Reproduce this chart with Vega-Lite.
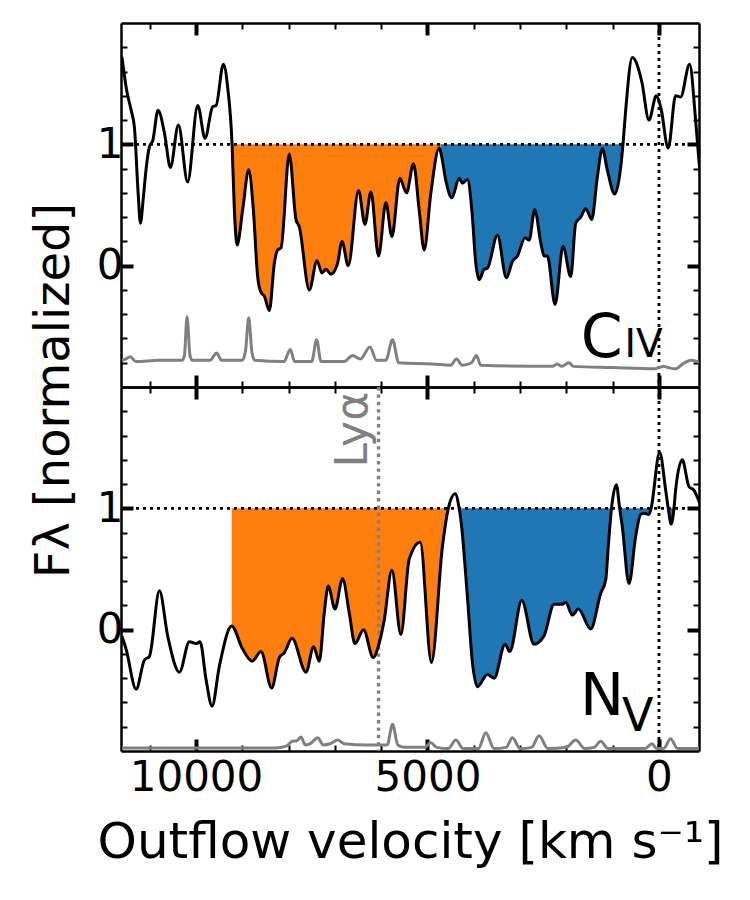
{
  "$schema": "https://vega.github.io/schema/vega-lite/v6.json",
  "padding": {"left": 30, "top": 21, "right": 5, "bottom": 5},
  "bounds": "flush",
  "spacing": 0,
  "config": {
    "font": "DejaVu Sans",
    "view": {"stroke": null},
    "axis": {"grid": false, "domain": false, "domainColor": "black", "domainWidth": 2.5, "tickColor": "black", "labelColor": "black", "titleColor": "black", "labelFont": "DejaVu Sans", "titleFont": "DejaVu Sans", "labelFontSize": 42, "titleFontSize": 48, "titleFontWeight": "normal", "zindex": 1}
  },
  "datasets": {
    "one": [{}],
    "civ": [{"v":11600,"f":1.72},{"v":11500,"f":1.45},{"v":11400,"f":1.28},{"v":11330,"f":1.14},{"v":11250,"f":0.6},{"v":11200,"f":0.35},{"v":11140,"f":0.55},{"v":11080,"f":0.79},{"v":11006,"f":0.98},{"v":10934,"f":1.03},{"v":10820,"f":1.28},{"v":10680,"f":1.09},{"v":10553,"f":0.81},{"v":10380,"f":1.16},{"v":10180,"f":0.69},{"v":9963,"f":1.32},{"v":9805,"f":1.05},{"v":9640,"f":1.31},{"v":9566,"f":1.32},{"v":9409,"f":1.66},{"v":9316,"f":1.47},{"v":9221,"f":1.0},{"v":9171,"f":0.46},{"v":9113,"f":0.17},{"v":8992,"f":0.46},{"v":8862,"f":0.79},{"v":8761,"f":0.46},{"v":8668,"f":-0.09},{"v":8596,"f":-0.22},{"v":8524,"f":-0.25},{"v":8416,"f":-0.37},{"v":8308,"f":0.02},{"v":8237,"f":0.13},{"v":8164,"f":0.145},{"v":7985,"f":0.92},{"v":7840,"f":0.38},{"v":7769,"f":0.32},{"v":7553,"f":-0.2},{"v":7387,"f":0.04},{"v":7279,"f":-0.06},{"v":7193,"f":-0.03},{"v":7085,"f":-0.07},{"v":6942,"f":0.02},{"v":6847,"f":0.2},{"v":6711,"f":0.0},{"v":6489,"f":0.62},{"v":6351,"f":0.34},{"v":6222,"f":0.61},{"v":6057,"f":0.08},{"v":5898,"f":0.52},{"v":5769,"f":0.24},{"v":5596,"f":0.72},{"v":5453,"f":0.6},{"v":5302,"f":0.84},{"v":5179,"f":0.46},{"v":5071,"f":0.13},{"v":4927,"f":0.6},{"v":4748,"f":0.97},{"v":4710,"f":0.93},{"v":4603,"f":0.7},{"v":4474,"f":0.56},{"v":4316,"f":0.72},{"v":4245,"f":0.68},{"v":4137,"f":0.71},{"v":4042,"f":0.46},{"v":3956,"f":0.02},{"v":3884,"f":-0.115},{"v":3776,"f":-0.03},{"v":3705,"f":-0.02},{"v":3489,"f":0.25},{"v":3295,"f":-0.1},{"v":3165,"f":0.035},{"v":3058,"f":0.08},{"v":2892,"f":0.23},{"v":2805,"f":0.21},{"v":2683,"f":0.46},{"v":2553,"f":0.19},{"v":2482,"f":0.08},{"v":2410,"f":0.08},{"v":2244,"f":-0.32},{"v":2072,"f":0.16},{"v":1906,"f":-0.09},{"v":1798,"f":0.35},{"v":1690,"f":0.4},{"v":1582,"f":0.47},{"v":1452,"f":0.38},{"v":1331,"f":0.73},{"v":1223,"f":0.965},{"v":1116,"f":0.79},{"v":956,"f":0.59},{"v":827,"f":0.81},{"v":777,"f":1.0},{"v":719,"f":1.28},{"v":576,"f":1.716},{"v":373,"f":1.52},{"v":216,"f":1.2},{"v":58,"f":1.4},{"v":-37,"f":1.31},{"v":-201,"f":0.97},{"v":-360,"f":1.4},{"v":-468,"f":1.39},{"v":-662,"f":1.66},{"v":-792,"f":1.2},{"v":-863,"f":0.87},{"v":-900,"f":0.72}],
    "civ_err": [{"v":11600,"e":-0.78},{"v":11520,"e":-0.77},{"v":11420,"e":-0.75},{"v":11300,"e":-0.79},{"v":10800,"e":-0.78},{"v":10300,"e":-0.78},{"v":10250,"e":-0.74},{"v":10193,"e":-0.42},{"v":10130,"e":-0.74},{"v":10080,"e":-0.78},{"v":9700,"e":-0.78},{"v":9553,"e":-0.72},{"v":9450,"e":-0.78},{"v":9000,"e":-0.78},{"v":8930,"e":-0.7},{"v":8862,"e":-0.43},{"v":8790,"e":-0.72},{"v":8730,"e":-0.78},{"v":8100,"e":-0.79},{"v":7963,"e":-0.69},{"v":7870,"e":-0.79},{"v":7500,"e":-0.79},{"v":7395,"e":-0.61},{"v":7300,"e":-0.79},{"v":6800,"e":-0.79},{"v":6619,"e":-0.74},{"v":6450,"e":-0.77},{"v":6243,"e":-0.67},{"v":6100,"e":-0.78},{"v":5900,"e":-0.78},{"v":5755,"e":-0.61},{"v":5620,"e":-0.8},{"v":4900,"e":-0.81},{"v":4500,"e":-0.82},{"v":4374,"e":-0.77},{"v":4250,"e":-0.82},{"v":4050,"e":-0.8},{"v":3943,"e":-0.74},{"v":3850,"e":-0.82},{"v":2300,"e":-0.83},{"v":2200,"e":-0.81},{"v":2100,"e":-0.83},{"v":1942,"e":-0.8},{"v":1850,"e":-0.83},{"v":1000,"e":-0.84},{"v":100,"e":-0.85},{"v":0,"e":-0.84},{"v":-100,"e":-0.83},{"v":-200,"e":-0.84},{"v":-350,"e":-0.85},{"v":-550,"e":-0.8},{"v":-700,"e":-0.78},{"v":-900,"e":-0.8}],
    "nv": [{"v":11600,"f":-0.055},{"v":11510,"f":-0.16},{"v":11293,"f":-0.49},{"v":11114,"f":-0.25},{"v":11006,"f":-0.22},{"v":10790,"f":0.32},{"v":10610,"f":-0.055},{"v":10358,"f":-0.35},{"v":10143,"f":-0.1},{"v":9998,"f":-0.115},{"v":9912,"f":-0.1},{"v":9783,"f":-0.41},{"v":9653,"f":-0.63},{"v":9495,"f":-0.3},{"v":9229,"f":0.03},{"v":8992,"f":-0.16},{"v":8790,"f":-0.26},{"v":8596,"f":-0.18},{"v":8366,"f":-0.48},{"v":8200,"f":-0.23},{"v":8092,"f":-0.19},{"v":7926,"f":-0.07},{"v":7624,"f":-0.35},{"v":7460,"f":-0.14},{"v":7337,"f":-0.26},{"v":7229,"f":0.14},{"v":7143,"f":0.36},{"v":6998,"f":0.17},{"v":6834,"f":0.42},{"v":6690,"f":0.14},{"v":6567,"f":-0.115},{"v":6381,"f":0.0},{"v":6172,"f":-0.23},{"v":6042,"f":-0.11},{"v":5934,"f":0.08},{"v":5769,"f":0.49},{"v":5574,"f":-0.04},{"v":5395,"f":0.58},{"v":5158,"f":0.72},{"v":4914,"f":-0.27},{"v":4676,"f":0.69},{"v":4550,"f":1.0},{"v":4402,"f":1.12},{"v":4316,"f":1.0},{"v":4280,"f":0.91},{"v":4137,"f":0.27},{"v":4029,"f":-0.27},{"v":3921,"f":-0.47},{"v":3705,"f":-0.37},{"v":3561,"f":-0.4},{"v":3323,"f":-0.12},{"v":3222,"f":-0.18},{"v":2963,"f":0.24},{"v":2698,"f":-0.12},{"v":2482,"f":-0.05},{"v":2266,"f":0.21},{"v":2086,"f":0.21},{"v":2014,"f":0.225},{"v":1871,"f":0.12},{"v":1741,"f":0.17},{"v":1474,"f":0.005},{"v":1258,"f":0.3},{"v":1150,"f":0.41},{"v":1094,"f":0.69},{"v":1025,"f":1.0},{"v":921,"f":1.195},{"v":849,"f":1.0},{"v":792,"f":0.85},{"v":647,"f":0.38},{"v":503,"f":0.77},{"v":395,"f":0.95},{"v":324,"f":0.96},{"v":216,"f":0.95},{"v":170,"f":1.0},{"v":-15,"f":1.46},{"v":-145,"f":1.15},{"v":-201,"f":1.0},{"v":-265,"f":0.87},{"v":-324,"f":1.0},{"v":-360,"f":1.15},{"v":-503,"f":1.4},{"v":-647,"f":1.18},{"v":-755,"f":1.15},{"v":-863,"f":1.06},{"v":-900,"f":1.02}],
    "nv_err": [{"v":11600,"e":-0.975},{"v":8300,"e":-0.975},{"v":8050,"e":-0.96},{"v":7920,"e":-0.92},{"v":7820,"e":-0.915},{"v":7733,"e":-0.885},{"v":7640,"e":-0.95},{"v":7530,"e":-0.94},{"v":7373,"e":-0.89},{"v":7250,"e":-0.95},{"v":7100,"e":-0.94},{"v":6942,"e":-0.91},{"v":6800,"e":-0.94},{"v":6300,"e":-0.95},{"v":5870,"e":-0.95},{"v":5755,"e":-0.78},{"v":5640,"e":-0.95},{"v":5500,"e":-0.97},{"v":5050,"e":-0.97},{"v":4935,"e":-0.93},{"v":4800,"e":-0.97},{"v":4550,"e":-0.98},{"v":4388,"e":-0.91},{"v":4230,"e":-0.98},{"v":3900,"e":-0.98},{"v":3740,"e":-0.85},{"v":3560,"e":-0.98},{"v":3300,"e":-0.97},{"v":3165,"e":-0.89},{"v":3000,"e":-0.98},{"v":2750,"e":-0.97},{"v":2590,"e":-0.875},{"v":2400,"e":-0.98},{"v":2000,"e":-0.97},{"v":1798,"e":-0.91},{"v":1600,"e":-0.98},{"v":1400,"e":-0.97},{"v":1258,"e":-0.92},{"v":1100,"e":-0.98},{"v":300,"e":-0.98},{"v":150,"e":-0.94},{"v":50,"e":-0.98},{"v":-100,"e":-0.98},{"v":-252,"e":-0.9},{"v":-400,"e":-0.98},{"v":-900,"e":-0.98}]
  },
  "vconcat": [
    {
      "width": 578, "height": 364,
      "resolve": {"axis": {"x": "independent", "y": "independent"}},
      "layer": [
        {
          "data": {"name": "civ"},
          "transform": [{"filter": "datum.f <= 1 && datum.v >= 4710 && datum.v <= 9221"}],
          "mark": {"type": "area", "interpolate": "monotone", "color": "#ff7f0e", "opacity": 1},
          "encoding": {
            "x": {"field": "v", "type": "quantitative", "scale": {"domain": [-865, 11620], "reverse": true, "nice": false, "zero": false}, "axis": {"orient": "bottom", "values": [10000, 5000, 0], "labels": false, "domain": true, "tickSize": -12, "tickWidth": 4, "title": null}},
            "y": {"field": "f", "type": "quantitative", "scale": {"domain": [-1, 2], "nice": false, "zero": false}, "axis": {"orient": "left", "values": [0, 1], "labels": true, "domain": true, "tickSize": -12, "tickWidth": 4, "labelPadding": 10, "title": "Fλ [normalized]", "titleFontSize": 48, "titleAngle": 270, "titleX": -53, "titleY": 367, "titleAlign": "center", "titleBaseline": "alphabetic"}},
            "y2": {"datum": 1}
          }
        },
        {
          "data": {"name": "civ"},
          "transform": [{"filter": "datum.f <= 1 && datum.v >= 777 && datum.v <= 4710"}],
          "mark": {"type": "area", "interpolate": "monotone", "color": "#1f77b4", "opacity": 1},
          "encoding": {
            "x": {"field": "v", "type": "quantitative", "scale": {"domain": [-865, 11620], "reverse": true, "nice": false, "zero": false}, "axis": {"orient": "top", "values": [10000, 5000, 0], "labels": false, "domain": true, "tickSize": -12, "tickWidth": 4, "title": null}},
            "y": {"field": "f", "type": "quantitative", "scale": {"domain": [-1, 2], "nice": false, "zero": false}, "axis": {"orient": "right", "values": [0, 1], "labels": false, "domain": true, "tickSize": -12, "tickWidth": 4, "title": null}},
            "y2": {"datum": 1}
          }
        },
        {
          "data": {"name": "one"},
          "mark": {"type": "rule", "color": "black", "strokeWidth": 2.8, "strokeDash": [3, 4]},
          "encoding": {"y": {"datum": 1, "axis": null}}
        },
        {
          "data": {"name": "one"},
          "mark": {"type": "rule", "color": "black", "strokeWidth": 2.8, "strokeDash": [3, 4]},
          "encoding": {"x": {"datum": 0, "axis": null}}
        },
        {
          "data": {"name": "civ_err"},
          "mark": {"type": "line", "interpolate": "monotone", "color": "#808080", "strokeWidth": 3, "clip": true},
          "encoding": {
            "x": {"field": "v", "type": "quantitative", "scale": {"domain": [-865, 11620], "reverse": true, "nice": false, "zero": false}, "axis": {"orient": "bottom", "values": [11000, 9000, 8000, 7000, 6000, 4000, 3000, 2000, 1000], "labels": false, "tickSize": -6, "tickWidth": 2, "title": null}},
            "y": {"field": "e", "type": "quantitative", "scale": {"domain": [-1, 2], "nice": false, "zero": false}, "axis": {"orient": "left", "values": [-0.8, -0.6, -0.4, -0.2, 0.2, 0.4, 0.6, 0.8, 1.2, 1.4, 1.6, 1.8], "labels": false, "tickSize": -6, "tickWidth": 2, "title": null}}
          }
        },
        {
          "data": {"name": "civ"},
          "mark": {"type": "line", "interpolate": "monotone", "color": "black", "strokeWidth": 3, "clip": true},
          "encoding": {
            "x": {"field": "v", "type": "quantitative", "scale": {"domain": [-865, 11620], "reverse": true, "nice": false, "zero": false}, "axis": {"orient": "top", "values": [11000, 9000, 8000, 7000, 6000, 4000, 3000, 2000, 1000], "labels": false, "tickSize": -6, "tickWidth": 2, "title": null}},
            "y": {"field": "f", "type": "quantitative", "scale": {"domain": [-1, 2], "nice": false, "zero": false}, "axis": {"orient": "right", "values": [-0.8, -0.6, -0.4, -0.2, 0.2, 0.4, 0.6, 0.8, 1.2, 1.4, 1.6, 1.8], "labels": false, "tickSize": -6, "tickWidth": 2, "title": null}}
          }
        },
        {
          "data": {"name": "one"},
          "mark": {"type": "text", "text": "C", "fontSize": 60, "align": "left", "baseline": "alphabetic", "color": "black"},
          "encoding": {"x": {"datum": 1690, "axis": null}, "y": {"datum": -0.754, "axis": null}}
        },
        {
          "data": {"name": "one"},
          "mark": {"type": "text", "text": "IV", "fontSize": 39, "align": "left", "baseline": "alphabetic", "color": "black"},
          "encoding": {"x": {"datum": 745, "axis": null}, "y": {"datum": -0.754, "axis": null}}
        }
      ]
    },
    {
      "width": 578, "height": 364,
      "resolve": {"axis": {"x": "independent", "y": "independent"}},
      "layer": [
        {
          "data": {"name": "nv"},
          "transform": [{"filter": "datum.f <= 1 && datum.v >= 4550 && datum.v <= 9229"}],
          "mark": {"type": "area", "interpolate": "monotone", "color": "#ff7f0e", "opacity": 1},
          "encoding": {
            "x": {"field": "v", "type": "quantitative", "scale": {"domain": [-865, 11620], "reverse": true, "nice": false, "zero": false}, "axis": {"orient": "bottom", "values": [10000, 5000, 0], "labels": true, "format": "d", "domain": true, "tickSize": -12, "tickWidth": 4, "labelPadding": 18, "title": "Outflow velocity [km s⁻¹]", "titleFontSize": 50, "titlePadding": 19}},
            "y": {"field": "f", "type": "quantitative", "scale": {"domain": [-1, 2], "nice": false, "zero": false}, "axis": {"orient": "left", "values": [0, 1], "labels": true, "domain": true, "tickSize": -12, "tickWidth": 4, "labelPadding": 10, "title": null}},
            "y2": {"datum": 1}
          }
        },
        {
          "data": {"name": "nv"},
          "transform": [{"filter": "datum.f <= 1 && datum.v >= -324 && datum.v <= 4316"}],
          "mark": {"type": "area", "interpolate": "monotone", "color": "#1f77b4", "opacity": 1},
          "encoding": {
            "x": {"field": "v", "type": "quantitative", "scale": {"domain": [-865, 11620], "reverse": true, "nice": false, "zero": false}, "axis": {"orient": "top", "values": [10000, 5000, 0], "labels": false, "domain": true, "tickSize": -12, "tickWidth": 4, "title": null}},
            "y": {"field": "f", "type": "quantitative", "scale": {"domain": [-1, 2], "nice": false, "zero": false}, "axis": {"orient": "right", "values": [0, 1], "labels": false, "domain": true, "tickSize": -12, "tickWidth": 4, "title": null}},
            "y2": {"datum": 1}
          }
        },
        {
          "data": {"name": "one"},
          "mark": {"type": "rule", "color": "black", "strokeWidth": 2.8, "strokeDash": [3, 4]},
          "encoding": {"y": {"datum": 1, "axis": null}}
        },
        {
          "data": {"name": "one"},
          "mark": {"type": "rule", "color": "black", "strokeWidth": 2.8, "strokeDash": [3, 4]},
          "encoding": {"x": {"datum": 0, "axis": null}}
        },
        {
          "data": {"name": "one"},
          "mark": {"type": "rule", "color": "#808080", "strokeWidth": 3.4, "strokeDash": [3.4, 4]},
          "encoding": {"x": {"datum": 6057, "axis": null}}
        },
        {
          "data": {"name": "one"},
          "mark": {"type": "text", "text": "Lyα", "fontSize": 44, "angle": 270, "align": "right", "baseline": "bottom", "color": "#808080"},
          "encoding": {"x": {"datum": 6107, "axis": null}, "y": {"datum": 1.96, "axis": null}}
        },
        {
          "data": {"name": "nv_err"},
          "mark": {"type": "line", "interpolate": "monotone", "color": "#808080", "strokeWidth": 3, "clip": true},
          "encoding": {
            "x": {"field": "v", "type": "quantitative", "scale": {"domain": [-865, 11620], "reverse": true, "nice": false, "zero": false}, "axis": {"orient": "bottom", "values": [11000, 9000, 8000, 7000, 6000, 4000, 3000, 2000, 1000], "labels": false, "tickSize": -6, "tickWidth": 2, "title": null}},
            "y": {"field": "e", "type": "quantitative", "scale": {"domain": [-1, 2], "nice": false, "zero": false}, "axis": {"orient": "left", "values": [-0.8, -0.6, -0.4, -0.2, 0.2, 0.4, 0.6, 0.8, 1.2, 1.4, 1.6, 1.8], "labels": false, "tickSize": -6, "tickWidth": 2, "title": null}}
          }
        },
        {
          "data": {"name": "nv"},
          "mark": {"type": "line", "interpolate": "monotone", "color": "black", "strokeWidth": 3, "clip": true},
          "encoding": {
            "x": {"field": "v", "type": "quantitative", "scale": {"domain": [-865, 11620], "reverse": true, "nice": false, "zero": false}, "axis": {"orient": "top", "values": [11000, 9000, 8000, 7000, 6000, 4000, 3000, 2000, 1000], "labels": false, "tickSize": -6, "tickWidth": 2, "title": null}},
            "y": {"field": "f", "type": "quantitative", "scale": {"domain": [-1, 2], "nice": false, "zero": false}, "axis": {"orient": "right", "values": [-0.8, -0.6, -0.4, -0.2, 0.2, 0.4, 0.6, 0.8, 1.2, 1.4, 1.6, 1.8], "labels": false, "tickSize": -6, "tickWidth": 2, "title": null}}
          }
        },
        {
          "data": {"name": "one"},
          "mark": {"type": "text", "text": "N", "fontSize": 59, "align": "left", "baseline": "alphabetic", "color": "black"},
          "encoding": {"x": {"datum": 1705, "axis": null}, "y": {"datum": -0.70, "axis": null}}
        },
        {
          "data": {"name": "one"},
          "mark": {"type": "text", "text": "V", "fontSize": 46, "align": "left", "baseline": "alphabetic", "color": "black"},
          "encoding": {"x": {"datum": 798, "axis": null}, "y": {"datum": -0.838, "axis": null}}
        }
      ]
    }
  ]
}
